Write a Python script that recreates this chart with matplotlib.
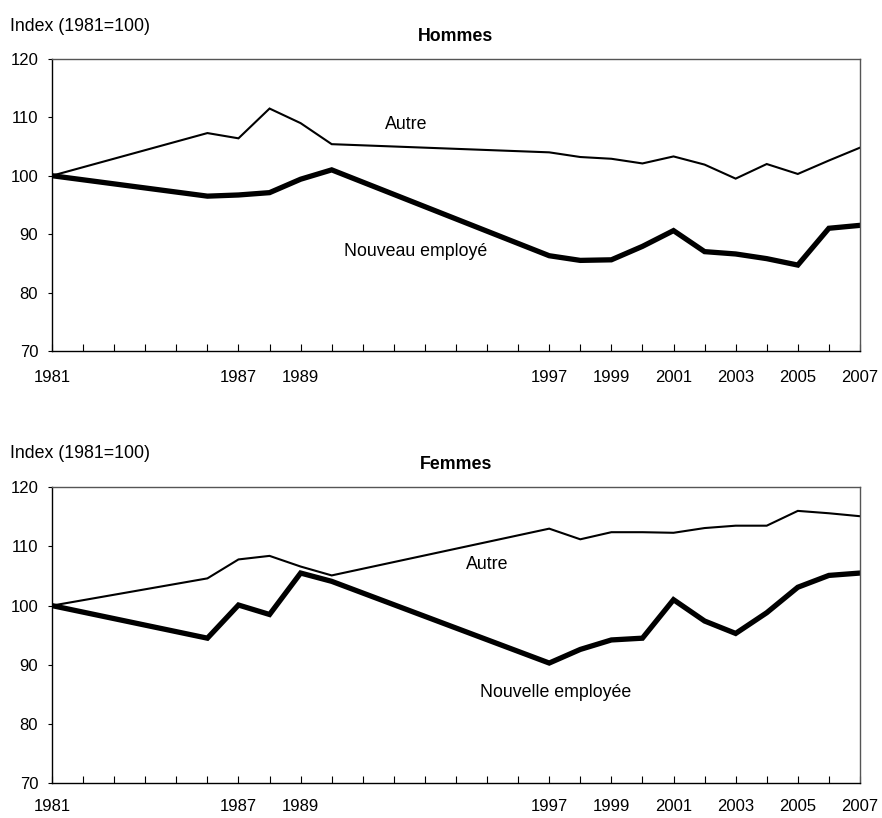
import matplotlib
matplotlib.use("Agg")
import matplotlib.pyplot as plt

plt.rcParams['font.family'] = ['Liberation Sans', 'DejaVu Sans']

# ----------------------------------------------

years = [1981, 1986, 1987, 1988, 1989, 1990, 1997, 1998, 1999, 2000,
         2001, 2002, 2003, 2004, 2005, 2006, 2007]
tickYears = [1981, 1987, 1989, 1997, 1999, 2001, 2003, 2005, 2007]

hommesAutre = [100, 107.3, 106.4, 111.5, 109.0, 105.4, 104.0, 103.2, 102.9, 102.1,
               103.3, 101.9, 99.5, 102.0, 100.3, 102.6, 104.8]
hommesNouveau = [100, 96.5, 96.7, 97.1, 99.4, 101.0, 86.3, 85.5, 85.6, 87.9,
                 90.6, 87.0, 86.6, 85.8, 84.7, 91.0, 91.5]
femmesAutre = [100, 104.6, 107.8, 108.4, 106.6, 105.1, 113.0, 111.2, 112.4, 112.4,
               112.3, 113.1, 113.5, 113.5, 116.0, 115.6, 115.1]
femmesNouvelle = [100, 94.5, 100.1, 98.5, 105.5, 104.1, 90.3, 92.6, 94.2, 94.5,
                  101.0, 97.4, 95.3, 98.8, 103.1, 105.1, 105.5]

TickSize = 12
TextSize = 12.8

# ----------------------------------------------

def drawPanel(ax, autre, nouveau, title, autreLabel, nouveauLabel, autrePos, nouveauPos, xPad):
  ax.plot(years, autre, color='black', lw=1.5, solid_joinstyle='miter')
  ax.plot(years, nouveau, color='black', lw=3.8, solid_joinstyle='miter')
  ax.set_xlim(1981, 2007)
  ax.set_ylim(70, 120)
  ax.set_yticks([70, 80, 90, 100, 110, 120])
  ax.set_xticks(range(1981, 2008), minor=True)
  ax.set_xticks(tickYears)
  ax.set_xticklabels([str(y) for y in tickYears], fontsize=TickSize)
  ax.tick_params(axis='x', which='both', direction='in', length=5, width=0.8, pad=xPad)
  ax.tick_params(axis='y', direction='out', length=3, width=0.8, labelsize=TickSize, pad=7)
  ax.spines['left'].set_color('black')
  ax.spines['bottom'].set_color('black')
  ax.spines['top'].set_color('#555555')
  ax.spines['right'].set_color('#555555')
  for s in ax.spines.values():
    s.set_linewidth(1.0)
  ax.set_title(title, fontsize=TextSize, fontweight='bold', pad=13)
  ax.text(autrePos[0], autrePos[1], autreLabel, fontsize=TextSize, ha='center', va='center')
  ax.text(nouveauPos[0], nouveauPos[1], nouveauLabel, fontsize=TextSize, ha='center', va='center')

# ----------------------------------------------

fig = plt.figure(figsize=(8.82, 8.18), dpi=100)
ax1 = fig.add_axes([0.059, 0.571, 0.916, 0.357])
ax2 = fig.add_axes([0.059, 0.0425, 0.916, 0.3619])

drawPanel(ax1, hommesAutre, hommesNouveau, 'Hommes', 'Autre', 'Nouveau employé',
          (1992.4, 108.7), (1992.7, 87.0), 14)
drawPanel(ax2, femmesAutre, femmesNouvelle, 'Femmes', 'Autre', 'Nouvelle employée',
          (1995.0, 106.9), (1997.2, 85.25), 11)

fig.text(0.011, 0.968, 'Index (1981=100)', fontsize=TextSize, ha='left', va='center')
fig.text(0.011, 0.446, 'Index (1981=100)', fontsize=TextSize, ha='left', va='center')

fig.savefig("out.png", dpi=100)
